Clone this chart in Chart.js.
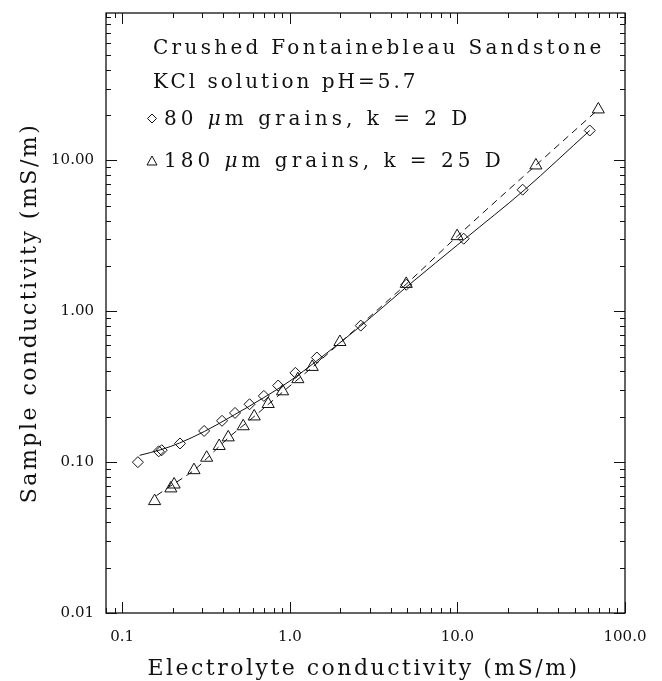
<!DOCTYPE html>
<html>
<head>
<meta charset="utf-8">
<script src="https://cdn.jsdelivr.net/npm/chart.js@4/dist/chart.umd.min.js"></script>
<style>
  html, body { margin: 0; padding: 0; background: #fff; }
</style>
</head>
<body>
<canvas id="graficoCondutividade" width="662" height="681"></canvas>
<script>
// Dados (mS/m)
const graos80X = [0.124, 0.165, 0.172, 0.221, 0.308, 0.394, 0.471, 0.575, 0.700, 0.852, 1.08, 1.45, 2.65, 4.95, 10.9, 24.5, 61.6];
const graos80Y = [0.100, 0.118, 0.120, 0.133, 0.161, 0.188, 0.212, 0.242, 0.275, 0.322, 0.391, 0.494, 0.804, 1.50, 3.03, 6.40, 15.8];

const graos180X = [0.156, 0.195, 0.204, 0.268, 0.319, 0.379, 0.429, 0.527, 0.613, 0.743, 0.905, 1.117, 1.36, 1.99, 4.95, 9.96, 29.4, 69.3];
const graos180Y = [0.0552, 0.067, 0.0711, 0.0885, 0.107, 0.128, 0.146, 0.173, 0.201, 0.243, 0.295, 0.355, 0.428, 0.626, 1.52, 3.15, 9.27, 21.8];

// Curvas de ajuste (linha cheia = 80 um, tracejada = 180 um)
const ajuste80X = [0.127, 0.17, 0.22, 0.31, 0.47, 0.70, 1.0, 1.45, 2.65, 5.0, 11, 25, 61.6];
const ajuste80Y = [0.111, 0.121, 0.134, 0.160, 0.207, 0.268, 0.345, 0.47, 0.80, 1.46, 3.0, 6.35, 15.8];

const ajuste180X = [0.16, 0.20, 0.27, 0.32, 0.43, 0.60, 0.90, 1.36, 2.0, 5.0, 10, 29.4, 69.3];
const ajuste180Y = [0.060, 0.071, 0.089, 0.106, 0.145, 0.197, 0.290, 0.425, 0.62, 1.53, 3.15, 9.3, 21.8];

// Rótulos dos eixos
const xTickValues = [0.1, 1, 10, 100];
const xTickLabels = ['0.1', '1.0', '10.0', '100.0'];
const yTickValues = [0.01, 0.1, 1, 10];
const yTickLabels = ['0.01', '0.10', '1.00', '10.00'];

const pares = (xs, ys) => xs.map((x, i) => ({ x: x, y: ys[i] }));

function eDecada(v) {
    const l = Math.log10(v);
    return Math.abs(l - Math.round(l)) < 1e-6;
}

// ticks menores 1..9 em cada década
function ticksLog(min, max) {
    const out = [];
    for (let e = Math.floor(Math.log10(min)); e <= Math.ceil(Math.log10(max)); e++) {
        for (let k = 1; k <= 9; k++) {
            const v = parseFloat((k * Math.pow(10, e)).toPrecision(6));
            if (v >= min * 0.9999 && v <= max * 1.0001) out.push(v);
        }
    }
    return out;
}

function rotulo(v, valores, rotulos) {
    const i = valores.findIndex(t => Math.abs(t - v) / t < 1e-6);
    return i >= 0 ? rotulos[i] : '';
}

const tinta = '#111';
const fonteSerif = '"DejaVu Serif", "Liberation Serif", serif';

// Moldura, ticks internos, legenda e títulos dos eixos
const moldura = {
    id: 'moldura',
    afterDraw(chart) {
        const { ctx, chartArea: a, scales: { x, y } } = chart;
        ctx.save();
        ctx.strokeStyle = tinta;
        ctx.lineWidth = 1.3;
        ctx.strokeRect(a.left, a.top, a.right - a.left, a.bottom - a.top);

        ctx.lineWidth = 1;
        ctx.beginPath();
        x.ticks.forEach(t => {
            const px = Math.round(x.getPixelForValue(t.value)) + 0.5;
            const len = eDecada(t.value) ? 11 : 5;
            ctx.moveTo(px, a.bottom); ctx.lineTo(px, a.bottom - len);
            ctx.moveTo(px, a.top); ctx.lineTo(px, a.top + len);
        });
        y.ticks.forEach(t => {
            const py = Math.round(y.getPixelForValue(t.value)) + 0.5;
            const len = eDecada(t.value) ? 11 : 5;
            ctx.moveTo(a.left, py); ctx.lineTo(a.left + len, py);
            ctx.moveTo(a.right, py); ctx.lineTo(a.right - len, py);
        });
        ctx.stroke();

        // legenda
        ctx.fillStyle = tinta;
        ctx.textBaseline = 'alphabetic';
        ctx.textAlign = 'left';
        ctx.font = '20px ' + fonteSerif;
        ctx.letterSpacing = '3.3px';
        ctx.fillText('Crushed Fontainebleau Sandstone', 153, 54);
        ctx.letterSpacing = '3px';
        ctx.fillText('KCl solution pH=5.7', 153, 88);

        const linha = (x0, yb, antes, depois) => {
            ctx.letterSpacing = '4px';
            ctx.font = '20px ' + fonteSerif;
            ctx.fillText(antes, x0, yb);
            let xx = x0 + ctx.measureText(antes).width;
            ctx.font = 'italic 20px ' + fonteSerif;
            ctx.fillText('\u03bc', xx, yb);
            xx += ctx.measureText('\u03bc').width;
            ctx.font = '20px ' + fonteSerif;
            ctx.fillText(depois, xx, yb);
        };
        linha(164, 125, '80 ', 'm grains, k = 2 D');
        linha(164, 167, '180 ', 'm grains, k = 25 D');

        // marcadores da legenda
        ctx.lineWidth = 1;
        ctx.beginPath();
        ctx.moveTo(152, 114); ctx.lineTo(156.5, 118.5); ctx.lineTo(152, 123); ctx.lineTo(147.5, 118.5); ctx.closePath();
        ctx.moveTo(152, 156); ctx.lineTo(157, 165); ctx.lineTo(147, 165); ctx.closePath();
        ctx.stroke();

        // títulos dos eixos
        ctx.font = '22px ' + fonteSerif;
        ctx.letterSpacing = '2.5px';
        ctx.textAlign = 'center';
        ctx.fillText('Electrolyte conductivity (mS/m)', (a.left + a.right) / 2 - 2, 675);
        ctx.save();
        ctx.translate(36, (a.top + a.bottom) / 2);
        ctx.rotate(-Math.PI / 2);
        ctx.fillText('Sample conductivity (mS/m)', 0, 0);
        ctx.restore();
        ctx.restore();
    }
};

document.addEventListener('DOMContentLoaded', function () {
    const ctx = document.getElementById('graficoCondutividade').getContext('2d');
    new Chart(ctx, {
        type: 'scatter',
        data: {
            datasets: [
                {
                    label: 'ajuste 80',
                    data: pares(ajuste80X, ajuste80Y),
                    showLine: true,
                    cubicInterpolationMode: 'monotone',
                    borderColor: tinta,
                    borderWidth: 1,
                    pointRadius: 0
                },
                {
                    label: 'ajuste 180',
                    data: pares(ajuste180X, ajuste180Y),
                    showLine: true,
                    cubicInterpolationMode: 'monotone',
                    borderColor: tinta,
                    borderWidth: 1,
                    borderDash: [7, 5],
                    pointRadius: 0
                },
                {
                    label: '80 um grains, k = 2 D',
                    data: pares(graos80X, graos80Y),
                    pointStyle: 'rectRot',
                    pointRadius: 5.5,
                    borderColor: tinta,
                    borderWidth: 1,
                    backgroundColor: 'rgba(0,0,0,0)'
                },
                {
                    label: '180 um grains, k = 25 D',
                    data: pares(graos180X, graos180Y),
                    pointStyle: 'triangle',
                    pointRadius: 7,
                    borderColor: tinta,
                    borderWidth: 1,
                    backgroundColor: 'rgba(0,0,0,0)'
                }
            ]
        },
        options: {
            responsive: false,
            animation: false,
            layout: { padding: { top: 12, right: 37, left: 0, bottom: 0 } },
            plugins: { legend: { display: false }, tooltip: { enabled: false } },
            scales: {
                x: {
                    type: 'logarithmic',
                    min: 0.08,
                    max: 100,
                    grid: { display: false },
                    border: { display: false },
                    afterBuildTicks: s => { s.ticks = ticksLog(0.08, 100).map(v => ({ value: v })); },
                    afterFit: s => { s.height = 68; },
                    ticks: {
                        autoSkip: false,
                        maxRotation: 0,
                        padding: 7,
                        color: tinta,
                        font: { family: fonteSerif, size: 15 },
                        callback: v => rotulo(v, xTickValues, xTickLabels)
                    }
                },
                y: {
                    type: 'logarithmic',
                    min: 0.01,
                    max: 95,
                    grid: { display: false },
                    border: { display: false },
                    afterBuildTicks: s => { s.ticks = ticksLog(0.01, 95).map(v => ({ value: v })); },
                    afterFit: s => { s.width = 106; },
                    ticks: {
                        autoSkip: false,
                        padding: 4,
                        color: tinta,
                        font: { family: fonteSerif, size: 15 },
                        callback: v => rotulo(v, yTickValues, yTickLabels)
                    }
                }
            }
        },
        plugins: [moldura]
    });
});
</script>
</body>
</html>
